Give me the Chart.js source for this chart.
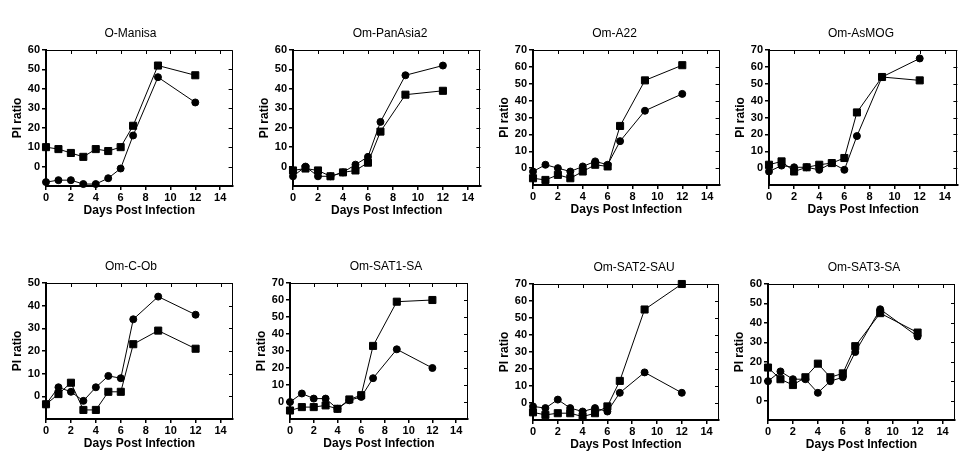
<!DOCTYPE html>
<html>
<head>
<meta charset="utf-8">
<script src="https://cdn.jsdelivr.net/npm/chart.js@4/dist/chart.umd.min.js"></script>
<style>
  html, body { margin: 0; padding: 0; background: #fff; }
  #wrap { position: relative; width: 973px; height: 473px; overflow: hidden; background: #fff; }
  .cell { position: absolute; }
</style>
</head>
<body>
<div id="wrap"></div>
<script>
// days sampled
const days = [0, 1, 2, 3, 4, 5, 6, 7, 9, 12];

const panelTitles = ['O-Manisa', 'Om-PanAsia2', 'Om-A22', 'Om-AsMOG',
                     'Om-C-Ob', 'Om-SAT1-SA', 'Om-SAT2-SAU', 'Om-SAT3-SA'];
const yTops = [60, 60, 70, 70, 50, 70, 70, 60];
const xTicks = [0, 2, 4, 6, 8, 10, 12, 14];

// square series
const manisaSq   = [10, 9, 7, 5, 9, 8, 10, 21, 52, 47];
const panAsiaSq  = [-2, -1, -2, -5, -3, -2, 2, 18, 37, 39];
const a22Sq      = [-6, -7, -4, -6, -2, 2, 1, 25, 52, 61];
const asMogSq    = [2, 4, -2, 0.5, 2, 3, 6, 33, 54, 52];
const cObSq      = [-3.5, 1, 6, -6, -6, 2, 2, 23, 29, 21];
const sat1Sq     = [-5, -3, -3, -2, -4, 1.5, 4, 33, 59, 60];
const sat2Sq     = [-5.5, -7, -6, -6, -8, -6, -2, 13, 55, 70];
const sat3Sq     = [17, 11, 8, 12, 19, 12, 14, 28, 45, 35];

// circle series
const manisaCi   = [-8, -7, -7, -9, -9, -6, -1, 16, 46, 33];
const panAsiaCi  = [-5, 0, -5, -5, -3, 1, 5, 23, 47, 52];
const a22Ci      = [-2, 2, 0, -2, 1, 4, 2, 16, 34, 44];
const asMogCi    = [-2, 1.5, 0.5, 0.5, -1, 3, -1, 19, 54, 65];
const cObCi      = [-3.5, 4, 2, -2, 4, 9, 8, 34, 44, 36];
const sat1Ci     = [0, 5, 2, 2, -4, 1, 3, 14, 31, 20];
const sat2Ci     = [-2, -3, 2, -3, -5, -3, -5, 6, 18, 6];
const sat3Ci     = [10, 15, 11, 11, 4, 10, 12, 25, 47, 33];

const squares = [manisaSq, panAsiaSq, a22Sq, asMogSq, cObSq, sat1Sq, sat2Sq, sat3Sq];
const circles = [manisaCi, panAsiaCi, a22Ci, asMogCi, cObCi, sat1Ci, sat2Ci, sat3Ci];

// plot boxes on the page (l, t, r, b) and title centre x
const boxes = [
  { l: 46,  t: 50,  r: 233, b: 186, tx: 130.7 },
  { l: 293, t: 50,  r: 480, b: 186, tx: 389.8 },
  { l: 533, t: 50,  r: 720, b: 185, tx: 614.7 },
  { l: 769, t: 50,  r: 957, b: 185, tx: 860.8 },
  { l: 46,  t: 283, r: 233, b: 419, tx: 131 },
  { l: 290, t: 283, r: 468, b: 419, tx: 386 },
  { l: 533, t: 284, r: 719, b: 420, tx: 634 },
  { l: 768, t: 284, r: 955, b: 420, tx: 864 }
];

const FONT = "'Liberation Sans', Arial, sans-serif";
const LEFT_W = 46, TOP_H = 40, BOTTOM_H = 40, TICK = 4;

// closed frame with inward ticks on top and right
const frame = {
  id: 'frame',
  beforeDatasetsDraw(chart) {
    const { ctx, chartArea: a, scales: { x, y } } = chart;
    ctx.save();
    ctx.strokeStyle = '#000';
    ctx.lineWidth = 1;
    ctx.beginPath();
    ctx.moveTo(a.left, Math.round(a.top) + 0.5);
    ctx.lineTo(Math.round(a.right) - 0.5, Math.round(a.top) + 0.5);
    ctx.lineTo(Math.round(a.right) - 0.5, a.bottom);
    x.ticks.forEach(t => {
      const px = Math.round(x.getPixelForValue(t.value)) + 0.5;
      ctx.moveTo(px, a.top);
      ctx.lineTo(px, a.top + TICK);
    });
    y.ticks.forEach(t => {
      if (t.value < 0) return;
      const py = Math.round(y.getPixelForValue(t.value)) + 0.5;
      ctx.moveTo(a.right, py);
      ctx.lineTo(a.right - TICK, py);
    });
    ctx.stroke();
    ctx.restore();
  }
};

function series(values, style, radius) {
  return {
    data: days.map((d, i) => ({ x: d, y: values[i] })),
    borderColor: '#000',
    borderWidth: 1,
    backgroundColor: '#000',
    pointStyle: style,
    pointRadius: radius,
    pointBorderWidth: 1,
    tension: 0,
    clip: false
  };
}

function makePanel(i) {
  const box = boxes[i];
  const left = box.l - LEFT_W;
  const right = 2 * box.tx - left;       // keeps the title centred where it sits
  const rightW = right - box.r;
  const w = Math.round(right - left);
  const h = TOP_H + (box.b - box.t) + BOTTOM_H;

  const cell = document.createElement('div');
  cell.className = 'cell';
  cell.style.left = left + 'px';
  cell.style.top = (box.t - TOP_H) + 'px';
  cell.style.width = w + 'px';
  cell.style.height = h + 'px';
  const canvas = document.createElement('canvas');
  canvas.width = w;
  canvas.height = h;
  cell.appendChild(canvas);
  document.getElementById('wrap').appendChild(cell);

  new Chart(canvas.getContext('2d'), {
    type: 'line',
    data: {
      datasets: [
        series(squares[i], 'rect', 5),
        series(circles[i], 'circle', 3.5)
      ]
    },
    options: {
      responsive: false,
      animation: false,
      layout: { padding: 0 },
      plugins: {
        legend: { display: false },
        tooltip: { enabled: false },
        title: {
          display: true,
          text: panelTitles[i],
          color: '#000',
          font: { family: FONT, size: 12, weight: 'normal' },
          padding: { top: 16.3, bottom: 9.3 }
        }
      },
      scales: {
        x: {
          type: 'linear',
          min: 0,
          max: 15,
          afterBuildTicks: s => { s.ticks = xTicks.map(v => ({ value: v })); },
          afterFit: s => { s.height = BOTTOM_H; },
          grid: { drawOnChartArea: false, drawTicks: true, tickLength: TICK, color: '#000', lineWidth: 1.5 },
          border: { display: true, color: '#000', width: 2 },
          ticks: { color: '#000', padding: 1, maxRotation: 0, font: { family: FONT, size: 11, weight: 'bold' } },
          title: {
            display: true,
            text: 'Days Post Infection',
            color: '#000',
            font: { family: FONT, size: 12, weight: 'bold' },
            padding: { top: 0, bottom: 7.8 }
          }
        },
        y: {
          min: -10,
          max: yTops[i],
          afterFit: s => { s.width = LEFT_W; },
          grid: { drawOnChartArea: false, drawTicks: true, tickLength: TICK, color: '#000', lineWidth: 1.5 },
          border: { display: true, color: '#000', width: 2 },
          ticks: {
            stepSize: 10,
            color: '#000',
            padding: 2,
            font: { family: FONT, size: 11, weight: 'bold' },
            callback: v => (v < 0 ? null : v)
          },
          title: {
            display: true,
            text: 'PI ratio',
            color: '#000',
            font: { family: FONT, size: 12, weight: 'bold' },
            padding: { top: 10.5, bottom: 0 }
          }
        },
        y2: {
          position: 'right',
          display: true,
          min: 0,
          max: 1,
          afterFit: s => { s.width = rightW; },
          grid: { display: false },
          border: { display: false },
          ticks: { display: false }
        }
      }
    },
    plugins: [frame]
  });
}

panelTitles.forEach((t, i) => makePanel(i));
</script>
</body>
</html>
